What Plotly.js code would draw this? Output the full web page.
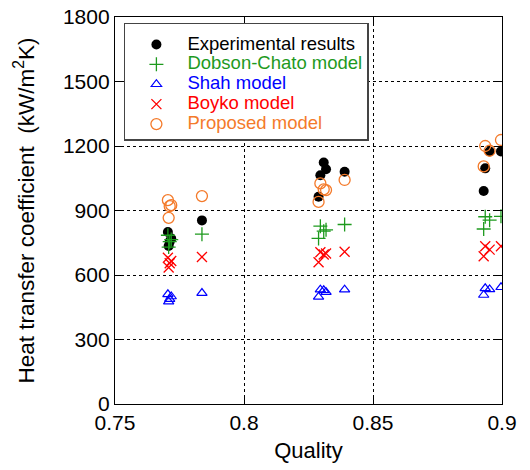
<!DOCTYPE html>
<html><head><meta charset="utf-8">
<script src="https://cdn.plot.ly/plotly-3.0.1.min.js"></script>
<style>html,body{margin:0;padding:0;background:#fff}#chart{width:530px;height:470px}</style>
</head><body><div id="chart"></div>
<script>
// Quality (x) of each measured point
const quality = [0.7705, 0.7718, 0.7712, 0.7708, 0.7837,
                 0.8289, 0.8296, 0.8309, 0.8318, 0.8390,
                 0.8929, 0.8935, 0.8952, 0.8996];
// Heat transfer coefficient (kW/m2K)
const experimental = [800, 770, 755, 735, 854,
                      964, 1064, 1123, 1092, 1080,
                      991, 1096, 1175, 1175];
const dobsonChato  = [785, 765, 755, 730, 790,
                      770, 827, 804, 810, 835,
                      814, 871, 855, 873];
const shah         = [510, 500, 488, 476, 516,
                      498, 532, 529, 520, 532,
                      507, 538, 533, 543];
const boyko        = [680, 665, 655, 635, 684,
                      659, 706, 695, 700, 708,
                      687, 734, 718, 734];
const proposed     = [948, 925, 920, 866, 967,
                      940, 1026, 998, 995, 1042,
                      1105, 1200, 1178, 1228];
const seriesNames = ['Experimental results', 'Dobson-Chato model', 'Shah model', 'Boyko model', 'Proposed model'];
const xTicks = [0.75, 0.8, 0.85, 0.9];
const yTicks = [0, 300, 600, 900, 1200, 1500, 1800];

const colors = ['#000000', '#1e9a1e', '#0000ff', '#ff0000', '#f47a2a'];
const lbl = (i) => '<span style="color:' + colors[i] + ';font-size:18.5px">' + seriesNames[i] + '</span>';

const traces = [
  {x: quality, y: experimental, mode: 'markers', type: 'scatter', name: lbl(0),
   marker: {symbol: 'circle', size: 10, color: colors[0]}},
  {x: quality, y: dobsonChato, mode: 'markers', type: 'scatter', name: lbl(1),
   marker: {symbol: 'cross-thin', size: 10, color: colors[1], line: {color: colors[1], width: 1.3}}},
  {x: quality, y: shah, mode: 'markers', type: 'scatter', name: lbl(2),
   marker: {symbol: 'triangle-up-open', size: 9, color: colors[2], line: {color: colors[2], width: 1.2}}},
  {x: quality, y: boyko, mode: 'markers', type: 'scatter', name: lbl(3),
   marker: {symbol: 'x-thin', size: 10, color: colors[3], line: {color: colors[3], width: 1.3}}},
  {x: quality, y: proposed, mode: 'markers', type: 'scatter', name: lbl(4),
   marker: {symbol: 'circle-open', size: 11, color: colors[4], line: {color: colors[4], width: 1.3}}}
];

const font = {family: '"Liberation Sans", Arial, sans-serif', color: '#000'};
const f = (s) => Object.assign({size: s}, font);

const layout = {
  width: 530, height: 470,
  margin: {l: 115, r: 28, t: 17, b: 66},
  paper_bgcolor: '#fff', plot_bgcolor: '#fff',
  font: f(20),
  showlegend: true,
  legend: {
    x: 0.023, y: 0.985, xanchor: 'left', yanchor: 'top',
    bgcolor: '#fff', bordercolor: '#444', borderwidth: 1.5,
    font: f(13),
    title: {text: ' ', font: f(4)},
    itemwidth: 52, tracegroupgap: 0
  },
  xaxis: {
    range: [0.75, 0.9], tickvals: xTicks, ticktext: xTicks.map(String),
    showline: true, linecolor: '#000', linewidth: 1.2, mirror: 'ticks',
    ticks: 'inside', ticklen: 6, tickcolor: '#000',
    showgrid: true, gridcolor: '#000', griddash: 'dot', gridwidth: 1,
    zeroline: false, tickfont: f(21),
    title: {text: 'Quality', font: f(22), standoff: 9}
  },
  yaxis: {
    range: [0, 1800], tickvals: yTicks, ticktext: yTicks.map(String),
    showline: true, linecolor: '#000', linewidth: 1.2, mirror: 'ticks',
    ticks: 'inside', ticklen: 6, tickcolor: '#000',
    showgrid: true, gridcolor: '#000', griddash: 'dot', gridwidth: 1,
    zeroline: false, tickfont: f(21),
    title: {text: 'Heat transfer coefficient  (kW/m<sup>2</sup>K)', font: f(22.5), standoff: 22}
  }
};

Plotly.newPlot('chart', traces, layout, {displayModeBar: false, staticPlot: true});
</script></body></html>
